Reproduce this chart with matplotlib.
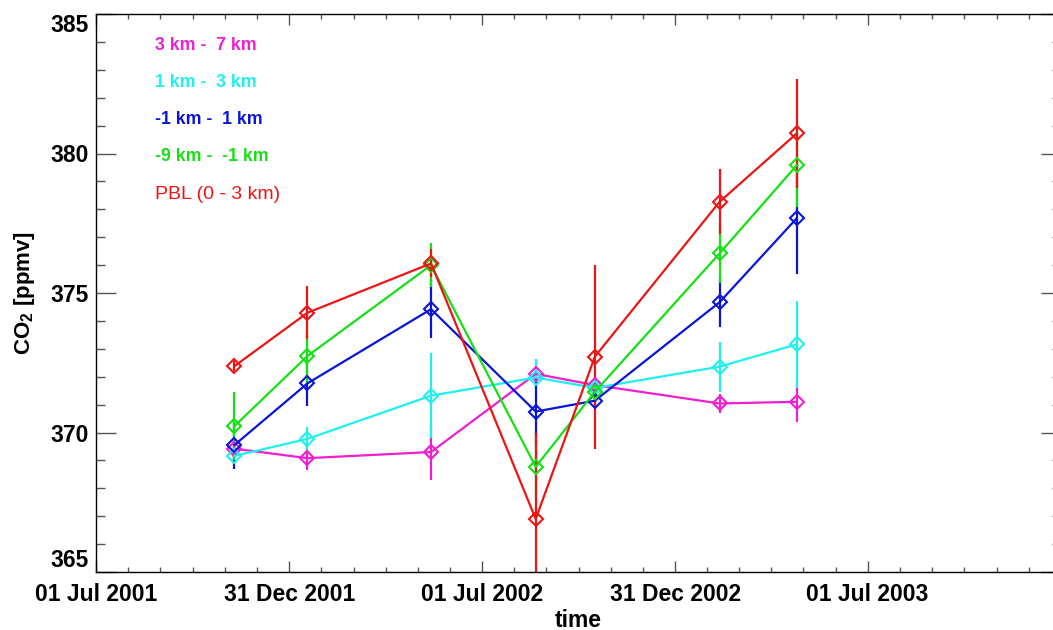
import matplotlib

matplotlib.use("Agg")
import matplotlib.dates as mdates
import matplotlib.pyplot as plt
import numpy as np
import pandas as pd
from matplotlib.ticker import FixedLocator, MultipleLocator

plt.rcParams["font.family"] = ["Liberation Sans", "DejaVu Sans"]
plt.rcParams["mathtext.fontset"] = "custom"
plt.rcParams["mathtext.bf"] = "Liberation Sans:bold"
plt.rcParams["mathtext.rm"] = "Liberation Sans"

# flight dates (one per campaign)
dates = pd.to_datetime([
    "2001-11-09", "2002-01-17", "2002-05-14", "2002-08-21",
    "2002-10-16", "2003-02-11", "2003-04-25",
])

# CO2 [ppmv] and errors per layer
co2_3_7 = [369.42, 369.08, 369.30, 372.10, 371.70, 371.04, 371.10]
err_3_7 = [0.30, 0.42, 1.00, 0.30, 0.30, 0.35, 0.74]
co2_1_3 = [369.16, 369.77, 371.32, 371.97, 371.60, 372.36, 373.16]
err_1_3 = [0.30, 0.42, 1.52, 0.65, 0.30, 0.90, 1.55]
co2_m1_1 = [369.55, 371.76, 374.42, 370.75, 371.14, 374.67, 377.68]
err_m1_1 = [0.85, 0.80, 1.05, 1.25, 0.30, 0.90, 2.00]
co2_m9_m1 = [370.23, 372.74, 376.00, 368.77, 371.46, 376.42, 379.58]
err_m9_m1 = [1.23, 0.95, 0.80, 1.23, 0.30, 1.07, 1.50]
co2_pbl = [372.38, 374.29, 376.06, 366.90, 372.72, 378.27, 380.72]
err_pbl = [0.18, 0.95, 0.50, 3.08, 3.30, 1.17, 1.96]

labels = ["3 km -  7 km", "1 km -  3 km", "-1 km -  1 km", "-9 km -  -1 km", "PBL (0 - 3 km)"]
colors = ["#ee1ed2", "#1ef0f0", "#0a14d8", "#14e014", "#ee1414"]

tick_dates = pd.to_datetime(["2001-07-01", "2001-12-31", "2002-07-01",
                             "2002-12-31", "2003-07-01", "2003-12-31"])
tick_labels = ["01 Jul 2001", "31 Dec 2001", "01 Jul 2002", "31 Dec 2002", "01 Jul 2003", ""]

fig = plt.figure(figsize=(10.53, 6.30), dpi=100)
ax = fig.add_axes([96 / 1053, 58 / 630, 965 / 1053, 558 / 630])

series = [
    (co2_3_7, err_3_7),
    (co2_1_3, err_1_3),
    (co2_m1_1, err_m1_1),
    (co2_m9_m1, err_m9_m1),
    (co2_pbl, err_pbl),
]
for (vals, errs), col in zip(series, colors):
    ax.errorbar(dates, vals, yerr=errs, color=col, lw=1.6, elinewidth=1.6,
                capsize=0, marker="D", ms=7, mfc="none", mec=col, mew=1.5)

tick_nums = mdates.date2num(tick_dates)
ax.set_xlim(tick_nums[0], tick_nums[-1])
ax.set_ylim(365, 385)
ax.xaxis.set_major_locator(FixedLocator(tick_nums))
ax.set_xticklabels(tick_labels)
minor = np.concatenate([np.linspace(a, b, 7)[1:-1] for a, b in zip(tick_nums[:-1], tick_nums[1:])])
ax.xaxis.set_minor_locator(FixedLocator(minor))
ax.yaxis.set_major_locator(FixedLocator([365, 370, 375, 380, 385]))
ax.set_yticklabels(["365", "370", "375", "380", "385"])
ax.yaxis.set_minor_locator(MultipleLocator(1))

ax.tick_params(axis="both", which="both", direction="in", top=True, right=True,
               color="#555555", width=1.0)
ax.tick_params(axis="x", which="major", length=7.7, pad=8)
ax.tick_params(axis="x", which="minor", length=3.8)
ax.tick_params(axis="y", which="major", length=14.4, pad=5)
ax.tick_params(axis="y", which="minor", length=6.8)
for lab in ax.get_xticklabels() + ax.get_yticklabels():
    lab.set_fontsize(16.5)
    lab.set_fontweight("bold")
# end labels of the y axis sit inside the axis range, as in the original
ylabs = ax.get_yticklabels()
ylabs[0].set_va("bottom")
ylabs[-1].set_va("top")
for sp in ax.spines.values():
    sp.set_linewidth(1.0)

ax.set_xlabel("time", fontsize=16.5, fontweight="bold", labelpad=2)
ax.set_ylabel(r"CO$_{\mathbf{2}}$ [ppmv]", fontsize=16, fontweight="bold", labelpad=10)

# in-plot legend as coloured text
for i, (lab, col) in enumerate(zip(labels, colors)):
    bold = i < 4
    ax.text((155 - 96) / 965, 1 - (45 + 37.3 * i - 14) / 558, lab, color=col,
            transform=ax.transAxes, ha="left", va="center",
            fontsize=12.8 if bold else 14, fontweight="bold" if bold else "normal")

fig.savefig("out.png", dpi=100)
